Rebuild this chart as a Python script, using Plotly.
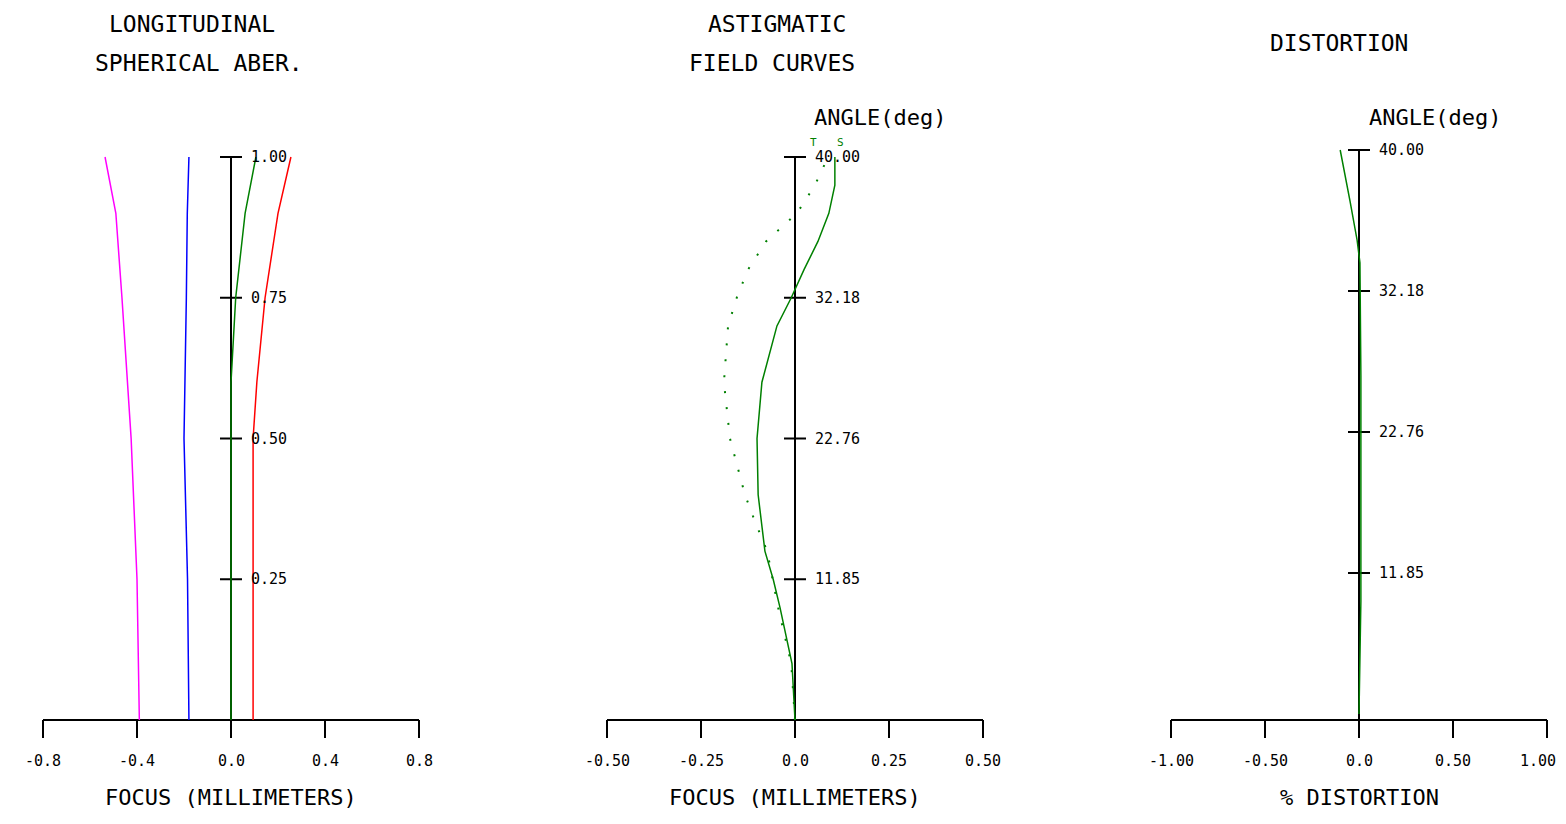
import plotly.graph_objects as go

# ---- data ----
sa_y = [0.0, 0.25, 0.5, 0.6, 0.75, 0.9, 1.0]
sa_magenta = [-0.39, -0.40, -0.425, -0.44, -0.464, -0.49, -0.536]
sa_blue = [-0.179, -0.185, -0.20, -0.195, -0.19, -0.186, -0.179]
sa_green = [0.0, 0.0, 0.0, 0.0, 0.02, 0.06, 0.106]
sa_red = [0.094, 0.094, 0.094, 0.11, 0.145, 0.20, 0.255]
sa_xticks = [-0.8, -0.4, 0.0, 0.4, 0.8]
sa_xlabels = ["-0.8", "-0.4", "0.0", "0.4", "0.8"]
sa_yticks = [0.25, 0.5, 0.75, 1.0]
sa_ylabels = ["0.25", "0.50", "0.75", "1.00"]

fc_y = [0.0, 0.1, 0.2, 0.25, 0.3, 0.35, 0.4, 0.5, 0.6, 0.7, 0.75, 0.8, 0.85, 0.9, 0.95, 1.0]
fc_s = [0.0, -0.008, -0.04, -0.058, -0.08, -0.09, -0.098, -0.101, -0.088, -0.048, -0.01, 0.024, 0.061, 0.09, 0.106, 0.106]
fc_t = [0.0, -0.01, -0.045, -0.06, -0.074, -0.105, -0.133, -0.173, -0.189, -0.178, -0.155, -0.125, -0.077, 0.005, 0.053, 0.088]
fc_xticks = [-0.5, -0.25, 0.0, 0.25, 0.5]
fc_xlabels = ["-0.50", "-0.25", "0.0", "0.25", "0.50"]
ang_ticks = [0.25, 0.5, 0.75, 1.0]
ang_labels = ["11.85", "22.76", "32.18", "40.00"]

di_y = [0.0, 0.2, 0.4, 0.6, 0.8, 0.84, 0.91, 1.0]
di_x = [0.0, 0.01, 0.01, 0.01, 0.005, -0.01, -0.048, -0.10]
di_xticks = [-1.0, -0.5, 0.0, 0.5, 1.0]
di_xlabels = ["-1.00", "-0.50", "0.0", "0.50", "1.00"]

FONT = "DejaVu Sans Mono"
W, H = 1558, 816
OFF = 8  # page offset
fig = go.Figure()

panels = [
    dict(xa="x", ya="y", xr=(-0.8, 0.8), px=(43, 419), py=(157, 720)),
    dict(xa="x2", ya="y2", xr=(-0.5, 0.5), px=(607, 983), py=(157, 720)),
    dict(xa="x3", ya="y3", xr=(-1.0, 1.0), px=(1171, 1547), py=(150, 714)),
]
YLO, YHI = -0.07, 1.03
layout = dict(width=W, height=H, margin=dict(l=0, r=0, t=0, b=0),
              plot_bgcolor="white", paper_bgcolor="white", showlegend=False)
for i, p in enumerate(panels):
    sfx = "" if i == 0 else str(i + 1)
    x0, x1 = p["px"][0] - OFF, p["px"][1] - OFF
    sc = (x1 - x0) / (p["xr"][1] - p["xr"][0])
    ext = 6 / sc
    p["pxw"] = sc
    y0p, y1p = p["py"][0] - OFF, p["py"][1] - OFF
    h = y1p - y0p
    p["pyh"] = h
    top = y1p - YHI * h
    bot = y1p - YLO * h
    layout["xaxis" + sfx] = dict(domain=[(x0 - 6) / W, min(1, (x1 + 6) / W)],
                                 range=[p["xr"][0] - ext, p["xr"][1] + ext],
                                 visible=False, anchor="y" + sfx)
    layout["yaxis" + sfx] = dict(domain=[max(0, 1 - bot / H), 1 - top / H], range=[YLO, YHI],
                                 visible=False, anchor="x" + sfx)
fig.update_layout(**layout)

def line(xa, ya, xs, ys, color="black", width=2, dash=None):
    fig.add_trace(go.Scatter(x=xs, y=ys, mode="lines", xaxis=xa, yaxis=ya, hoverinfo="skip",
                             line=dict(color=color, width=width, dash=dash)))

ann = []
def text(xa, ya, x, y, s, size=15, xanchor="center", xshift=0, color="black"):
    ann.append(dict(x=x, y=y, xref=xa, yref=ya, text=s, showarrow=False, xanchor=xanchor,
                    yanchor="middle", xshift=xshift, font=dict(family=FONT, size=size, color=color)))

def axes(p, xticks, xlabels, yticks, ylabels, xtitle):
    xa, ya = p["xa"], p["ya"]
    xr = p["xr"]
    pxw, pyh = p["pxw"], p["pyh"]
    ybase = -(720 - p["py"][1]) / pyh
    line(xa, ya, [xr[0], xr[1]], [ybase, ybase])
    xs, ys = [], []
    for t in xticks:
        xs += [t, t, None]; ys += [ybase, ybase - 18 / pyh, None]
    line(xa, ya, xs, ys)
    for t, l in zip(xticks, xlabels):
        if t == xr[1] and p["px"][1] > 1500:
            text(xa, "paper", t, 1 - (761 - OFF) / H, l, xanchor="right", xshift=11)
        else:
            text(xa, "paper", t, 1 - (761 - OFF) / H, l)
    text(xa, "paper", 0, 1 - (797 - OFF) / H, xtitle, size=22)
    line(xa, ya, [0, 0], [ybase, 1])
    xs, ys = [], []
    d = 11 / pxw
    for t in yticks:
        xs += [-d, d, None]; ys += [t, t, None]
    line(xa, ya, xs, ys)
    for t, l in zip(yticks, ylabels):
        text(xa, ya, 0, t, l, xanchor="left", xshift=18)

axes(panels[0], sa_xticks, sa_xlabels, sa_yticks, sa_ylabels, "FOCUS (MILLIMETERS)")
axes(panels[1], fc_xticks, fc_xlabels, ang_ticks, ang_labels, "FOCUS (MILLIMETERS)")
axes(panels[2], di_xticks, di_xlabels, ang_ticks, ang_labels, "% DISTORTION")

line("x", "y", sa_magenta, sa_y, "magenta", 1.5)
line("x", "y", sa_blue, sa_y, "blue", 1.5)
line("x", "y", sa_green, sa_y, "green", 1.5)
line("x", "y", sa_red, sa_y, "red", 1.5)
line("x2", "y2", fc_t, fc_y, "green", 2, "2px,14px")
line("x2", "y2", fc_s, fc_y, "green", 1.5)
line("x3", "y3", di_x, di_y, "green", 1.5)

def ptext(xp, yp, s, size=23, xanchor="center", color="black"):
    ann.append(dict(x=(xp - OFF) / W, y=1 - (yp - OFF) / H, xref="paper", yref="paper", text=s,
                    showarrow=False, xanchor=xanchor, yanchor="middle",
                    font=dict(family=FONT, size=size, color=color)))

ptext(192, 24, "LONGITUDINAL"); ptext(199, 63, "SPHERICAL ABER.")
ptext(777, 24, "ASTIGMATIC"); ptext(772, 63, "FIELD CURVES")
ptext(1339, 43, "DISTORTION")
ptext(880, 118, "ANGLE(deg)", size=22); ptext(1435, 118, "ANGLE(deg)", size=22)
ptext(813, 143, "T", size=11, color="green"); ptext(840, 143, "S", size=11, color="green")

fig.update_layout(annotations=ann)
fig.write_html("out.html")
